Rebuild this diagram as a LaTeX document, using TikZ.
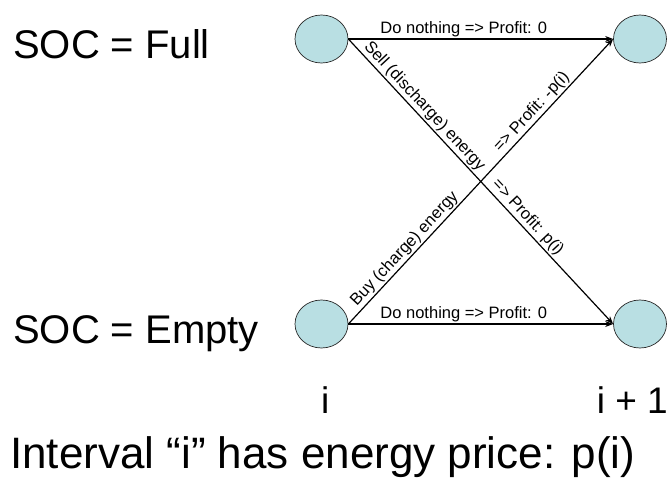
\documentclass[tikz,border=0pt]{standalone}
\usepackage{fontspec}
\setmainfont{Liberation Sans}
\usetikzlibrary{arrows.meta,shapes.geometric}
\definecolor{nodefill}{RGB}{185,223,227}
\begin{document}
\begin{tikzpicture}[x=1pt,y=-1pt,
  state/.style={ellipse, draw=black!85, line width=0.7pt, fill=nodefill, minimum width=53pt, minimum height=48pt, inner sep=0pt},
  edge/.style={line width=1.2pt, -{Stealth[length=8pt,width=6pt]}},
  lbl/.style={font=\fontsize{16.5}{19}\selectfont, inner sep=1.5pt},
  bigtxt/.style={font=\fontsize{40}{48}\selectfont, inner sep=0pt},
  midtxt/.style={font=\fontsize{37}{44}\selectfont, inner sep=0pt},
  captxt/.style={font=\fontsize{44}{52}\selectfont, inner sep=0pt}]
\useasboundingbox (0,0) rectangle (670,484);
\node[state] (tl) at (321.5,39) {};
\node[state] (tr) at (640,39) {};
\node[state] (bl) at (321.5,324) {};
\node[state] (br) at (640,324) {};

\draw[edge] (tl.east) -- node[lbl, above, pos=0.436] {Do nothing => Profit: 0} (tr.west);
\draw[edge] (bl.east) -- node[lbl, above, pos=0.436] {Do nothing => Profit: 0} (br.west);
\draw[edge] (tl.east) -- node[lbl, sloped, above, pos=0.26] {Sell (discharge) energy}
                         node[lbl, sloped, above, pos=0.65] {=> Profit: p(i)} (br.west);
\draw[edge] (bl.east) -- node[lbl, sloped, above, pos=0.24] {Buy (charge) energy}
                         node[lbl, sloped, above, pos=0.72] {=> Profit: -p(i)} (tr.west);

\node[bigtxt, anchor=base west] (full) at (13,59) {SOC = Full};
\node[bigtxt, anchor=base west] (empty) at (13,343) {SOC = Empty};
\node[midtxt, anchor=base west] (i0) at (321,413) {i};
\node[midtxt, anchor=base east] (i1) at (668,413) {i + 1};
\node[captxt, anchor=base west] (caption) at (10,468) {Interval “i” has energy price: p(i)};
\end{tikzpicture}
\end{document}
